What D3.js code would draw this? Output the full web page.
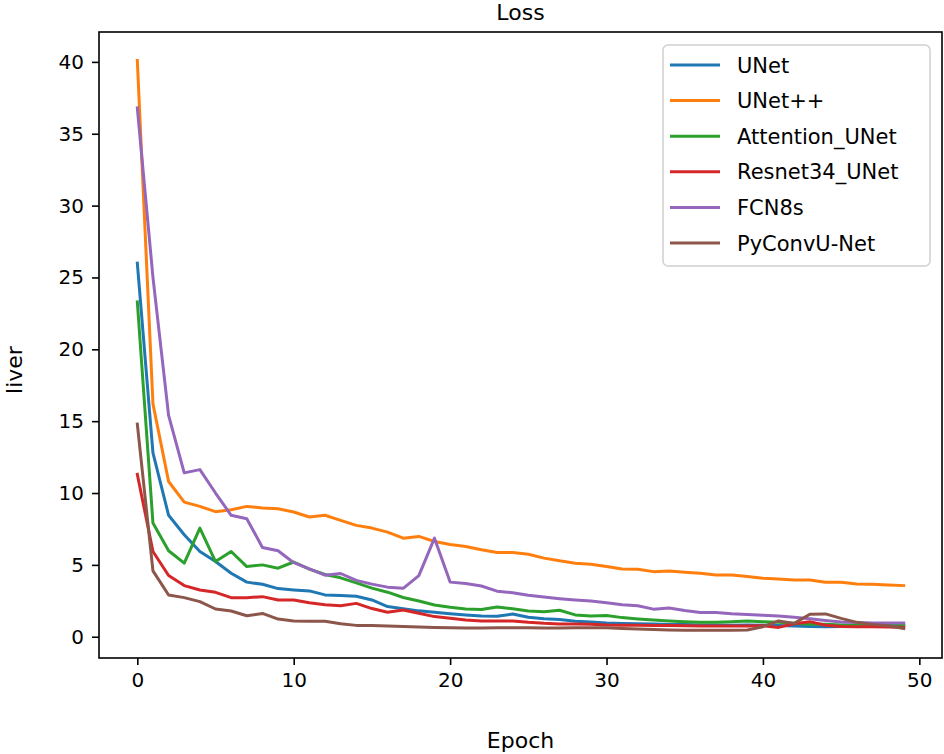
<!DOCTYPE html>
<html>
<head>
<meta charset="utf-8">
<script src="https://cdn.jsdelivr.net/npm/d3@7"></script>
<style>
  html, body { margin: 0; padding: 0; background: #fff; }
  svg { display: block; }
  text { font-family: "DejaVu Sans", sans-serif; fill: #000; }
</style>
</head>
<body>
<svg id="chart" width="944" height="754"></svg>
<script>
const epochs = d3.range(50);
const seriesNames = ["UNet", "UNet++", "Attention_UNet", "Resnet34_UNet", "FCN8s", "PyConvU-Net"];
const seriesColors = ["#1f77b4", "#ff7f0e", "#2ca02c", "#d62728", "#9467bd", "#8c564b"];

const unet = [26.0, 12.8, 8.45, 7.1, 5.93, 5.23, 4.42, 3.8, 3.65, 3.35,
  3.26, 3.19, 2.91, 2.87, 2.82, 2.56, 2.1, 1.95, 1.8, 1.7,
  1.6, 1.52, 1.45, 1.42, 1.58, 1.36, 1.25, 1.2, 1.08, 1.02,
  0.95, 0.92, 0.9, 0.88, 0.85, 0.85, 0.82, 0.82, 0.8, 0.82,
  0.8, 0.78, 0.75, 0.72, 0.7, 0.72, 0.75, 0.78, 0.8, 0.8];
const unetpp = [40.1, 16.2, 10.8, 9.37, 9.07, 8.7, 8.84, 9.07, 8.96, 8.9,
  8.68, 8.33, 8.45, 8.1, 7.75, 7.56, 7.28, 6.86, 6.98, 6.63,
  6.42, 6.28, 6.05, 5.86, 5.86, 5.74, 5.47, 5.28, 5.12, 5.05,
  4.88, 4.72, 4.7, 4.53, 4.58, 4.49, 4.42, 4.3, 4.3, 4.19,
  4.07, 4.02, 3.95, 3.95, 3.79, 3.79, 3.67, 3.65, 3.6, 3.56];
const attUnet = [23.3, 7.91, 5.98, 5.12, 7.56, 5.23, 5.93, 4.88, 5.0, 4.77,
  5.2, 4.7, 4.33, 4.1, 3.75, 3.38, 3.1, 2.73, 2.49, 2.21,
  2.05, 1.93, 1.9, 2.07, 1.95, 1.79, 1.74, 1.84, 1.52, 1.45,
  1.47, 1.33, 1.24, 1.17, 1.1, 1.05, 1.0, 1.0, 1.05, 1.1,
  1.05, 1.0, 0.93, 0.86, 0.86, 0.82, 0.82, 0.82, 0.82, 0.82];
const resnet34 = [11.3, 5.93, 4.26, 3.56, 3.25, 3.09, 2.72, 2.72, 2.79, 2.56,
  2.56, 2.36, 2.23, 2.16, 2.32, 1.96, 1.7, 1.86, 1.63, 1.4,
  1.28, 1.17, 1.1, 1.1, 1.1, 1.0, 0.93, 0.89, 0.89, 0.87,
  0.82, 0.8, 0.8, 0.78, 0.78, 0.76, 0.75, 0.75, 0.75, 0.75,
  0.77, 0.65, 0.9, 1.05, 0.8, 0.72, 0.7, 0.7, 0.68, 0.65];
const fcn8s = [36.8, 25.0, 15.4, 11.4, 11.63, 10.0, 8.45, 8.21, 6.21, 5.98,
  5.15, 4.72, 4.28, 4.4, 3.92, 3.66, 3.45, 3.37, 4.25, 6.86,
  3.8, 3.7, 3.53, 3.17, 3.06, 2.88, 2.76, 2.65, 2.56, 2.49,
  2.36, 2.23, 2.15, 1.92, 2.0, 1.83, 1.69, 1.68, 1.6, 1.55,
  1.49, 1.45, 1.36, 1.25, 1.13, 1.02, 0.99, 0.96, 0.96, 0.96];
const pyconv = [14.8, 4.58, 2.9, 2.72, 2.44, 1.93, 1.79, 1.46, 1.62, 1.23,
  1.1, 1.07, 1.07, 0.9, 0.79, 0.79, 0.75, 0.72, 0.68, 0.65,
  0.62, 0.61, 0.6, 0.62, 0.63, 0.62, 0.6, 0.6, 0.62, 0.63,
  0.63, 0.58, 0.53, 0.5, 0.47, 0.45, 0.45, 0.45, 0.45, 0.47,
  0.7, 1.1, 0.93, 1.56, 1.59, 1.28, 1.0, 0.86, 0.77, 0.58];
const seriesValues = [unet, unetpp, attUnet, resnet34, fcn8s, pyconv];

const xTicks = [0, 10, 20, 30, 40, 50];
const yTicks = [0, 5, 10, 15, 20, 25, 30, 35, 40];

const svg = d3.select("#chart");
const plot = { left: 99, right: 942, top: 32, bottom: 658 };

const x = d3.scaleLinear().domain([-2.45, 51.45]).range([plot.left, plot.right]);
const y = d3.scaleLinear().domain([-1.48, 42.08]).range([plot.bottom, plot.top]);

const clipId = "plotclip";
svg.append("defs").append("clipPath").attr("id", clipId)
  .append("rect").attr("x", plot.left).attr("y", plot.top)
  .attr("width", plot.right - plot.left).attr("height", plot.bottom - plot.top);

const line = d3.line().x((d, i) => x(epochs[i])).y(d => y(d));
const g = svg.append("g").attr("clip-path", `url(#${clipId})`);
seriesValues.forEach((vals, k) => {
  g.append("path").datum(vals)
    .attr("d", line)
    .attr("fill", "none")
    .attr("stroke", seriesColors[k])
    .attr("stroke-width", 3)
    .attr("stroke-linejoin", "round")
    .attr("stroke-linecap", "square");
});

// axes
const xAxis = d3.axisBottom(x).tickValues(xTicks).tickSize(7).tickPadding(8).tickFormat(d3.format("d"));
const yAxis = d3.axisLeft(y).tickValues(yTicks).tickSize(7).tickPadding(8).tickFormat(d3.format("d"));

const gx = svg.append("g").attr("transform", `translate(0,${plot.bottom})`).call(xAxis);
const gy = svg.append("g").attr("transform", `translate(${plot.left},0)`).call(yAxis);
[gx, gy].forEach(ax => {
  ax.select(".domain").remove();
  ax.selectAll(".tick line").attr("stroke", "#000").attr("stroke-width", 1.6);
  ax.selectAll(".tick text").style("font-size", "20px").attr("fill", "#000");
});

// frame
svg.append("rect")
  .attr("x", plot.left).attr("y", plot.top)
  .attr("width", plot.right - plot.left).attr("height", plot.bottom - plot.top)
  .attr("fill", "none").attr("stroke", "#000").attr("stroke-width", 1.6);

// title & labels
svg.append("text").attr("x", (plot.left + plot.right) / 2).attr("y", 20)
  .attr("text-anchor", "middle").style("font-size", "22px").text("Loss");
svg.append("text").attr("x", (plot.left + plot.right) / 2).attr("y", 748)
  .attr("text-anchor", "middle").style("font-size", "22px").text("Epoch");
svg.append("text")
  .attr("transform", `translate(22,370) rotate(-90)`)
  .attr("text-anchor", "middle").style("font-size", "22px").text("liver");

// legend
const leg = svg.append("g");
leg.append("rect").attr("x", 663).attr("y", 45).attr("width", 267).attr("height", 221)
  .attr("rx", 5).attr("fill", "#fff").attr("fill-opacity", 0.8)
  .attr("stroke", "#d0d0d0").attr("stroke-width", 1.5);
seriesNames.forEach((name, k) => {
  const yy = 65 + k * 35.6;
  leg.append("line").attr("x1", 670).attr("x2", 720).attr("y1", yy).attr("y2", yy)
    .attr("stroke", seriesColors[k]).attr("stroke-width", 3);
  leg.append("text").attr("x", 737).attr("y", yy).attr("dy", "0.36em")
    .style("font-size", "21px").text(name);
});
</script>
</body>
</html>
